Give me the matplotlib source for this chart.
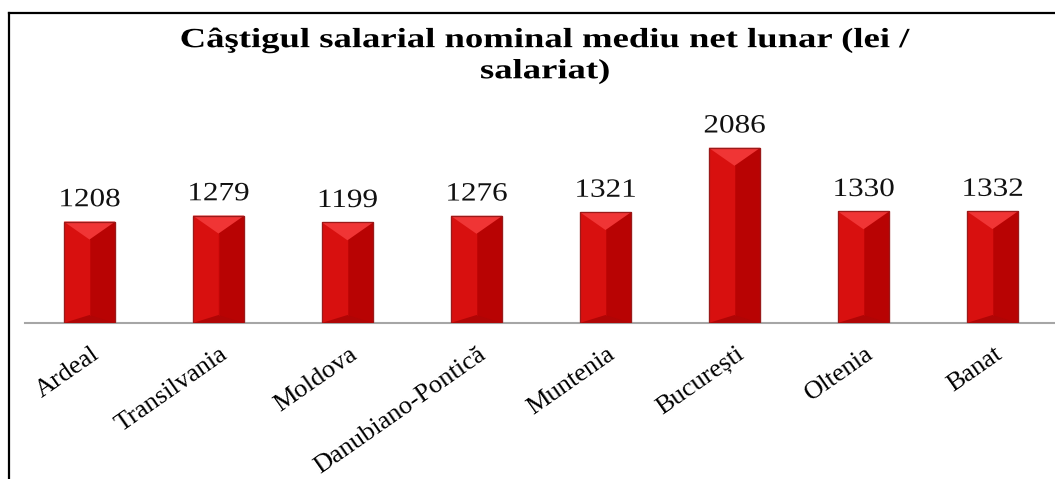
import matplotlib
matplotlib.use("Agg")
import matplotlib.pyplot as plt
from matplotlib.patches import Polygon, Rectangle
from matplotlib.lines import Line2D
from matplotlib import patheffects
from matplotlib.transforms import Affine2D
import matplotlib.transforms as mtransforms

# ---- data ----
regions = ["Ardeal", "Transilvania", "Moldova", "Danubiano-Pontică",
           "Muntenia", "București", "Oltenia", "Banat"]
salaries = [1208, 1279, 1199, 1276, 1321, 2086, 1330, 1332]
title = "Câştigul salarial nominal mediu net lunar (lei /\nsalariat)"


class StretchX(patheffects.AbstractPathEffect):
    """Widen glyphs horizontally about each line's centre."""
    def __init__(self, sx):
        super().__init__()
        self.sx = sx

    def draw_path(self, renderer, gc, tpath, affine, rgbFace=None):
        v = tpath.vertices
        cx = (v[:, 0].min() + v[:, 0].max()) / 2 if len(v) else 0
        t = Affine2D().translate(-cx, 0).scale(self.sx, 1).translate(cx, 0)
        renderer.draw_path(gc, tpath, t + affine, rgbFace)


W, H = 1055, 479
fig = plt.figure(figsize=(W / 100, H / 100), dpi=100)
fig.patch.set_facecolor("white")

serif = ["Liberation Serif", "DejaVu Serif"]

# axes placement in pixels
ax_left, ax_right = 25, 1057
ax_base, ax_top = 323, 113
ax = fig.add_axes([ax_left / W, (H - ax_base) / H,
                   (ax_right - ax_left) / W, (ax_base - ax_top) / H])
ax.set_xlim(-0.5, len(regions) - 0.5)
ymax = 2500
ax.set_ylim(0, ymax)
ax.set_facecolor("none")
for s in ["left", "right", "top"]:
    ax.spines[s].set_visible(False)
ax.spines["bottom"].set_color("#a6a6a6")
ax.spines["bottom"].set_linewidth(1.5)
ax.set_yticks([])
ax.tick_params(axis="x", length=0)

x = list(range(len(regions)))
bars = ax.bar(x, salaries, width=0.40, color="#d40c0c",
              edgecolor="#8e0000", linewidth=0.8, zorder=2)

# pixel -> data conversions for bevel depth
ypp = ymax / (ax_base - ax_top)
top_d = 18 * ypp
bot_d = 8 * ypp

for b in bars:
    x0 = b.get_x()
    w = b.get_width()
    h = b.get_height()
    x1 = x0 + w
    xc = x0 + w / 2
    ax.add_patch(Rectangle((x0, 0), w / 2, h, facecolor="#d8100f",
                           edgecolor="none", zorder=3))
    ax.add_patch(Rectangle((xc, 0), w / 2, h, facecolor="#b80303",
                           edgecolor="none", zorder=3))
    ax.add_patch(Polygon([(x0, h), (x1, h), (xc, h - top_d)], closed=True,
                         facecolor="#f03535", edgecolor="none", zorder=4))
    ax.add_patch(Polygon([(x0, 0), (x1, 0), (xc, bot_d)], closed=True,
                         facecolor="#b00505", edgecolor="none", zorder=4))
    ax.plot([xc, xc], [bot_d, h - top_d], color="#c20707", lw=0.6, zorder=5)
    ax.add_patch(Rectangle((x0, 0), w, h, facecolor="none",
                           edgecolor="#9a1a1a", linewidth=0.9, zorder=6))
    ax.annotate(f"{int(h)}", xy=(xc, h), xytext=(0, 11),
                textcoords="offset points", ha="center", va="baseline",
                fontsize=19, family=serif, color="#111111",
                path_effects=[StretchX(1.18)])

ax.set_xticks(x)
ax.set_xticklabels(regions, rotation=35, ha="right", va="top",
                   rotation_mode="anchor", fontsize=19, family=serif)
offset = mtransforms.ScaledTranslation(1 / 100, -15 / 100, fig.dpi_scale_trans)
for lab in ax.get_xticklabels():
    lab.set_transform(lab.get_transform() + offset)

fig.text(545 / W, 1 - 28 / H, title, ha="center", va="top",
         fontsize=20, fontweight="bold", family=serif, linespacing=1.32,
         path_effects=[StretchX(1.32)])

# frame lines
fig.add_artist(Line2D([9 / W, 9 / W], [0, 1 - 13 / H], color="black",
                      lw=1.6, transform=fig.transFigure))
fig.add_artist(Line2D([9 / W, 1], [1 - 13 / H, 1 - 13 / H], color="black",
                      lw=1.6, transform=fig.transFigure))

fig.savefig("out.png", dpi=100)
